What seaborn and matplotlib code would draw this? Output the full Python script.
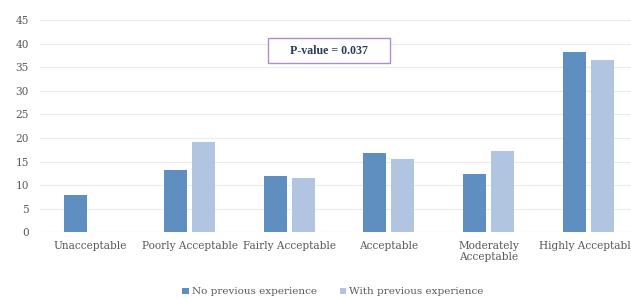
import matplotlib
matplotlib.use("Agg")
import matplotlib.pyplot as plt
from matplotlib.patches import Rectangle
import seaborn as sns
import pandas as pd

categories = ["Unacceptable", "Poorly Acceptable", "Fairly Acceptable",
              "Acceptable", "Moderately\nAcceptable", "Highly Acceptable"]
no_prev = [7.9, 13.2, 11.9, 16.9, 12.3, 38.2]
with_prev = [0.0, 19.2, 11.6, 15.5, 17.2, 36.5]
series_names = ["No previous experience", "With previous experience"]
colors = ["#5F8FC1", "#B1C4E0"]
yticks = [0, 5, 10, 15, 20, 25, 30, 35, 40, 45]
pvalue_text = "P-value = 0.037"

df = pd.DataFrame({
    "category": categories * 2,
    "value": no_prev + with_prev,
    "series": [series_names[0]] * len(categories) + [series_names[1]] * len(categories),
})

sns.set_theme(style="white")
plt.rcParams["font.family"] = ["DejaVu Serif"]

fig = plt.figure(figsize=(6.31, 2.98), dpi=100)
ax = fig.add_axes([40 / 631, (298 - 232.3) / 298, 598 / 631, 212.3 / 298])

sns.barplot(data=df, x="category", y="value", hue="series", order=categories,
            hue_order=series_names, palette=colors, width=0.56, gap=0.18,
            linewidth=0, saturation=1, ax=ax, legend=True)

ax.set_xlim(-0.5, 5.5)
ax.set_ylim(0, 45)
ax.set_yticks(yticks)
ax.set_yticklabels([str(t) for t in yticks])
ax.yaxis.grid(True, color="#EBEBEB", linewidth=0.8)
ax.set_axisbelow(True)
for s in ax.spines.values():
    s.set_visible(False)
ax.axhline(0, color="#E3E3E3", linewidth=0.8, zorder=0)
ax.set_xlabel("")
ax.set_ylabel("")
ax.tick_params(axis="both", length=0, labelsize=7.6, colors="#595959", pad=6)
ax.tick_params(axis="y", pad=8)

handles, labels = ax.get_legend_handles_labels()
ax.get_legend().remove()
leg = fig.legend(handles, labels, loc="center", bbox_to_anchor=(333 / 631, 1 - 292 / 298),
                 ncol=2, frameon=False, fontsize=7.5, handlelength=0.6, handleheight=0.6,
                 handletextpad=0.3, columnspacing=2.2, borderaxespad=0)
for t in leg.get_texts():
    t.set_color("#595959")

box = Rectangle((268 / 631, 1 - 63 / 298), 122 / 631, 25 / 298, transform=fig.transFigure,
                facecolor="white", edgecolor="#A990CC", linewidth=1.0, zorder=5)
fig.add_artist(box)
fig.text(329 / 631, 1 - 50.5 / 298, pvalue_text, ha="center", va="center",
         fontsize=8.6, fontweight="bold", family=["Liberation Serif"], color="#2C3A5C",
         zorder=6)

fig.savefig("out.png", dpi=100)
